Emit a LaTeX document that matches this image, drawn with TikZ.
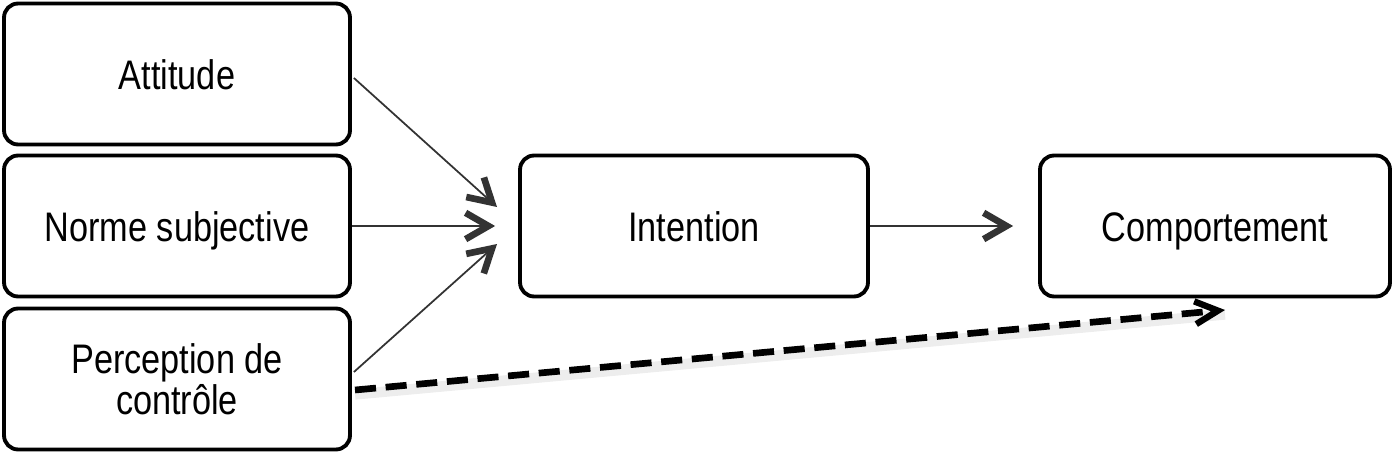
\documentclass[tikz,border=0pt]{standalone}
\usepackage{fontspec}
\setmainfont{Liberation Sans}
\newfontfamily\boxfont[FakeStretch=0.83]{Liberation Sans}
\usetikzlibrary{arrows.meta,positioning}

\begin{document}
\begin{tikzpicture}[x=0.02cm, y=-0.02cm,
  box/.style={draw, line width=2.2pt, rounded corners=8pt, minimum width=6.92cm, minimum height=2.82cm, align=center, font=\boxfont\fontsize{23.5}{23.5}\selectfont},
  oneline/.style={text height=19pt, text depth=1.2pt},
  link/.style={-{Straight Barb[length=13pt, width=15pt, line width=3.8pt]}, line width=1pt, draw=black!80},
  direct/.style={-{Straight Barb[length=13pt, width=13pt, line width=3.6pt]}, line width=3.8pt, dash pattern=on 12pt off 5.5pt,
    preaction={draw=black!7, line width=6pt, transform canvas={yshift=-2.5pt}, -{}}}
]
\useasboundingbox (0,0) rectangle (1395,459);

\node[box, oneline] (att) at (177,74) {Attitude};
\node[box, oneline] (norm) at (177,226) {Norme subjective};
\node[box] (perc) at (177,379) {Perception de\\contrôle};
\node[box, oneline, minimum width=6.96cm] (int) at (694,226) {Intention};
\node[box, oneline, minimum width=7cm] (comp) at (1215,226) {Comportement};

\coordinate (in1) at (497,207);
\coordinate (in3) at (497,244);
\coordinate (dstart) at (355,390);
\coordinate (dend) at (1225,310);

\draw[link] (att.east) ++(2,4) -- (in1);
\draw[link, shorten >=0.46cm] (norm) -- (int);
\draw[link] (perc.east) ++(2,-7) -- (in3);
\draw[link, shorten >=0.5cm] (int) -- (comp);
\draw[direct] (dstart) -- (dend);

\end{tikzpicture}
\end{document}
